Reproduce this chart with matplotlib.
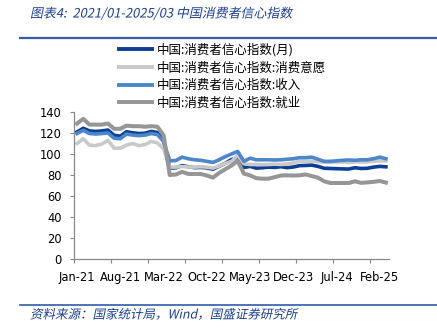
import matplotlib
matplotlib.use("Agg")
import matplotlib.pyplot as plt
import matplotlib.patheffects as pe
from matplotlib.transforms import Affine2D
from matplotlib.lines import Line2D
import numpy as np

# 2021/01 - 2025/03, monthly
months = list(range(51))
tick_labels = ["Jan-21", "Aug-21", "Mar-22", "Oct-22", "May-23", "Dec-23", "Jul-24", "Feb-25"]

confidence = [121.0, 124.5, 122.0, 121.5, 122.0, 122.8, 117.8, 117.0, 121.2, 120.2, 119.5, 119.8,
              121.5, 120.5, 113.2, 86.7, 86.8, 88.9, 87.9, 87.0, 87.2, 86.8, 85.5, 88.3,
              91.2, 94.7, 96.5, 87.1, 88.2, 86.5, 86.9, 87.5, 87.2, 87.9, 87.0, 87.6,
              88.9, 89.1, 89.4, 88.2, 86.4, 86.2, 86.0, 85.8, 85.7, 86.9, 86.2, 86.4,
              87.5, 88.2, 87.8]
willingness = [110.0, 114.5, 108.5, 108.0, 109.5, 113.0, 105.5, 105.5, 108.5, 110.0, 108.0, 109.0,
               112.0, 110.5, 105.0, 87.6, 87.5, 88.0, 87.6, 87.5, 87.8, 87.5, 86.5, 88.5,
               91.0, 93.0, 98.7, 90.8, 90.0, 90.0, 89.8, 90.0, 90.3, 90.0, 90.5, 91.5,
               93.0, 93.0, 93.2, 92.5, 92.4, 92.0, 92.4, 92.4, 92.0, 92.5, 92.4, 92.6,
               93.0, 93.5, 93.2]
income = [119.5, 122.5, 119.5, 119.0, 119.5, 120.0, 115.0, 114.5, 119.0, 118.0, 117.5, 118.0,
          119.5, 118.5, 112.0, 93.5, 93.8, 97.0, 95.5, 94.5, 94.0, 93.0, 92.0, 94.5,
          97.5, 100.0, 102.5, 93.0, 96.0, 94.5, 94.5, 94.5, 94.3, 94.5, 95.0, 95.5,
          96.5, 96.5, 97.0, 95.0, 93.0, 93.0, 93.5, 94.0, 94.3, 94.0, 94.5, 94.5,
          95.5, 97.0, 95.5]
employment = [129.0, 133.5, 128.0, 128.0, 128.0, 129.0, 124.0, 124.0, 127.0, 126.5, 126.5, 126.0,
              126.5, 126.0, 118.0, 80.0, 80.5, 83.0, 81.0, 81.0, 81.0, 79.5, 77.5, 82.0,
              85.5, 89.0, 93.5, 81.3, 79.7, 77.0, 76.5, 76.5, 78.0, 79.5, 79.7, 79.5,
              79.7, 80.5, 79.0, 77.5, 74.0, 72.4, 72.4, 72.4, 72.4, 74.0, 72.5, 73.0,
              73.5, 74.3, 72.8]

series = [
    ("中国:消费者信心指数(月)", confidence, "#0d3f95", 2.6),
    ("中国:消费者信心指数:消费意愿", willingness, "#c9c9c9", 2.6),
    ("中国:消费者信心指数:收入", income, "#4d87c9", 2.6),
    ("中国:消费者信心指数:就业", employment, "#969696", 2.9),
]

CJK = ["Noto Sans CJK SC", "DejaVu Sans"]
BLUE_TEXT = "#1b3f8f"


class Slant(pe.AbstractPathEffect):
    """Fake italic: shear glyph outlines about the text baseline."""

    def draw_path(self, renderer, gc, tpath, affine, rgbFace=None):
        renderer.draw_path(gc, tpath, Affine2D().skew_deg(12, 0) + affine, rgbFace)


fig = plt.figure(figsize=(4.37, 3.25), dpi=100)
ax = fig.add_axes([74 / 437, 1 - 259 / 325, 315 / 437, 147 / 325])

x = np.array(months) + 0.5
for name, vals, color, lw in series:
    ax.plot(x, vals, color=color, lw=lw, label=name, solid_joinstyle="round")

ax.set_xlim(0, 51)
ax.set_ylim(0, 140)
ax.set_yticks(range(0, 141, 20))

# tick marks every 6 months, labels every 7 months centred on the month
ax.set_xticks(range(0, 49, 6))
ax.set_xticklabels([])
ax.set_xticks(np.arange(0, 51, 7) + 0.5, minor=True)
ax.set_xticklabels(tick_labels, minor=True)
ax.tick_params(axis="x", which="major", length=3, color="#888888", direction="out")
ax.tick_params(axis="x", which="minor", length=0, pad=8.5, labelsize=8.3, labelcolor="black")
ax.tick_params(axis="y", length=3, color="#888888", pad=6, labelsize=8.3)

for side in ("top", "right"):
    ax.spines[side].set_visible(False)
for side in ("left", "bottom"):
    ax.spines[side].set_color("#888888")
    ax.spines[side].set_linewidth(0.9)

leg = fig.legend(loc="upper left", bbox_to_anchor=(119 / 437, 1 - 43 / 325),
                 frameon=False, prop={"family": CJK, "size": 9},
                 handlelength=2.6, handletextpad=0.4, labelspacing=0.38,
                 borderpad=0, borderaxespad=0)
for line in leg.get_lines():
    line.set_linewidth(2.8)

# header and footer
fig.text(30 / 437, 1 - 14 / 325, "图表4:  2021/01-2025/03 中国消费者信心指数",
         family=CJK, size=9.3, color=BLUE_TEXT, va="center",
         path_effects=[Slant()])
fig.add_artist(Line2D([20 / 437, 1], [1 - 38 / 325] * 2, color="#2f5ea8", lw=1.6))
fig.add_artist(Line2D([20 / 437, 1], [1 - 305 / 325] * 2, color="#2f5ea8", lw=1.2))
fig.text(30 / 437, 1 - 315 / 325, "资料来源：国家统计局，Wind，国盛证券研究所",
         family=CJK, size=9, color=BLUE_TEXT, va="center",
         path_effects=[Slant()])

fig.savefig("out.png", dpi=100)
